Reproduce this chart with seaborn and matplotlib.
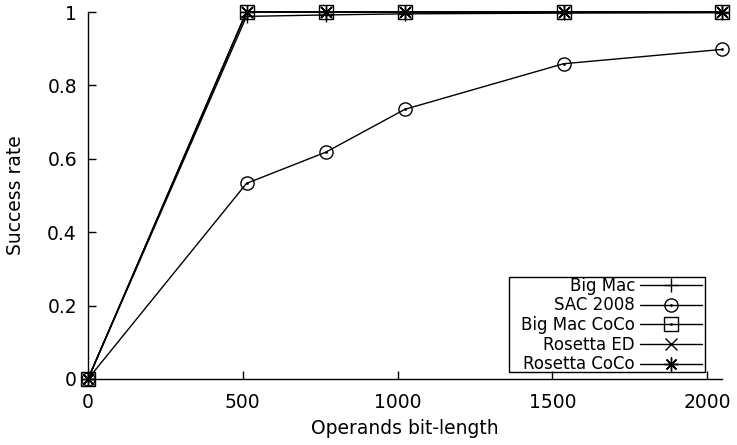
import matplotlib
matplotlib.use("Agg")
import matplotlib.pyplot as plt
from matplotlib.lines import Line2D
from matplotlib.patches import Rectangle
from matplotlib.transforms import IdentityTransform
import seaborn as sns
import pandas as pd

# Operand sizes (bits) and success rates per attack
bit_lengths = [0, 512, 768, 1024, 1536, 2048]
big_mac = [0.0, 0.988, 0.992, 0.995, 0.997, 0.998]
sac_2008 = [0.0, 0.533, 0.618, 0.735, 0.859, 0.898]
big_mac_coco = [0.0, 1.0, 1.0, 1.0, 1.0, 1.0]
rosetta_ed = [0.0, 1.0, 1.0, 1.0, 1.0, 1.0]
rosetta_coco = [0.0, 1.0, 1.0, 1.0, 1.0, 1.0]

series_names = ["Big Mac", "SAC 2008", "Big Mac CoCo", "Rosetta ED", "Rosetta CoCo"]
series_values = [big_mac, sac_2008, big_mac_coco, rosetta_ed, rosetta_coco]

x_ticks = [0, 500, 1000, 1500, 2000]
y_ticks = [0, 0.2, 0.4, 0.6, 0.8, 1.0]
y_tick_labels = ["0", "0.2", "0.4", "0.6", "0.8", "1"]

sns.set_style("ticks")
plt.rcParams["font.family"] = ["DejaVu Sans"]
plt.rcParams["text.color"] = "black"
plt.rcParams["axes.labelcolor"] = "black"

rows = []
for name, vals in zip(series_names, series_values):
    for x, y in zip(bit_lengths, vals):
        rows.append({"bits": x, "rate": y, "attack": name})
df = pd.DataFrame(rows)

fig = plt.figure(figsize=(7.37, 4.45), dpi=100)
ax = fig.add_axes([88 / 737, 1 - 379 / 445, (722 - 88) / 737, (379 - 12) / 445])

styles = {
    "Big Mac": dict(marker="+", markersize=10.5),
    "SAC 2008": dict(marker="o", markersize=9.5, mfc="none"),
    "Big Mac CoCo": dict(marker="s", markersize=9.5, mfc="none"),
    "Rosetta ED": dict(marker="x", markersize=8.5),
    "Rosetta CoCo": dict(marker=(8, 2, 0), markersize=10),
}
dotted = ("SAC 2008", "Big Mac CoCo")

for name in series_names:
    sub = df[df["attack"] == name]
    sns.lineplot(data=sub, x="bits", y="rate", ax=ax, color="black",
                 linewidth=1.0, markeredgewidth=1.0,
                 markeredgecolor="black", legend=False, **styles[name])
    if name in dotted:
        ax.plot(sub["bits"], sub["rate"], linestyle="none", marker=".",
                markersize=2, color="black")

ax.set_xlim(0, 2048)
ax.set_ylim(0, 1)
ax.set_xticks(x_ticks)
ax.set_yticks(y_ticks)
ax.set_yticklabels(y_tick_labels)
ax.tick_params(direction="in", length=6, width=1, labelsize=13.5,
               colors="black")
ax.tick_params(axis="y", pad=8)
ax.tick_params(axis="x", pad=10)
for side in ("top", "right"):
    ax.spines[side].set_visible(False)
for side in ("left", "bottom"):
    ax.spines[side].set_linewidth(1.0)
    ax.spines[side].set_color("black")

ax.set_xlabel("Operands bit-length", fontsize=13.5, labelpad=5)
ax.set_ylabel("Success rate", fontsize=13.5, labelpad=16)

# Legend handles: line through the marker, with centre dots where needed
handles = []
for name in series_names:
    main = Line2D([], [], color="black", linewidth=1.0,
                  markeredgecolor="black", markeredgewidth=1.0, **styles[name])
    if name in dotted:
        dot = Line2D([], [], linestyle="none", marker=".", markersize=2,
                     color="black")
        handles.append((main, dot))
    else:
        handles.append(main)
leg = ax.legend(handles, series_names, loc="lower right",
                bbox_to_anchor=(0.968, 0.015),
                markerfirst=False, frameon=False,
                fontsize=12, handlelength=3.7,
                borderpad=0.0, labelspacing=0.1, handletextpad=0.3,
                borderaxespad=0)
for t in leg.get_texts():
    t.set_ha("right")

for line in ax.lines:
    line.set_clip_on(False)

# Box around the key, wider on the text side
fig.canvas.draw()
bb = leg.get_window_extent(fig.canvas.get_renderer())
frame = Rectangle((bb.x0 - 12, bb.y0 + 1.5), bb.width + 15, bb.height - 1.5,
                  transform=IdentityTransform(), fill=False,
                  edgecolor="black", linewidth=1.0)
fig.add_artist(frame)

fig.savefig("out.png", dpi=100)
